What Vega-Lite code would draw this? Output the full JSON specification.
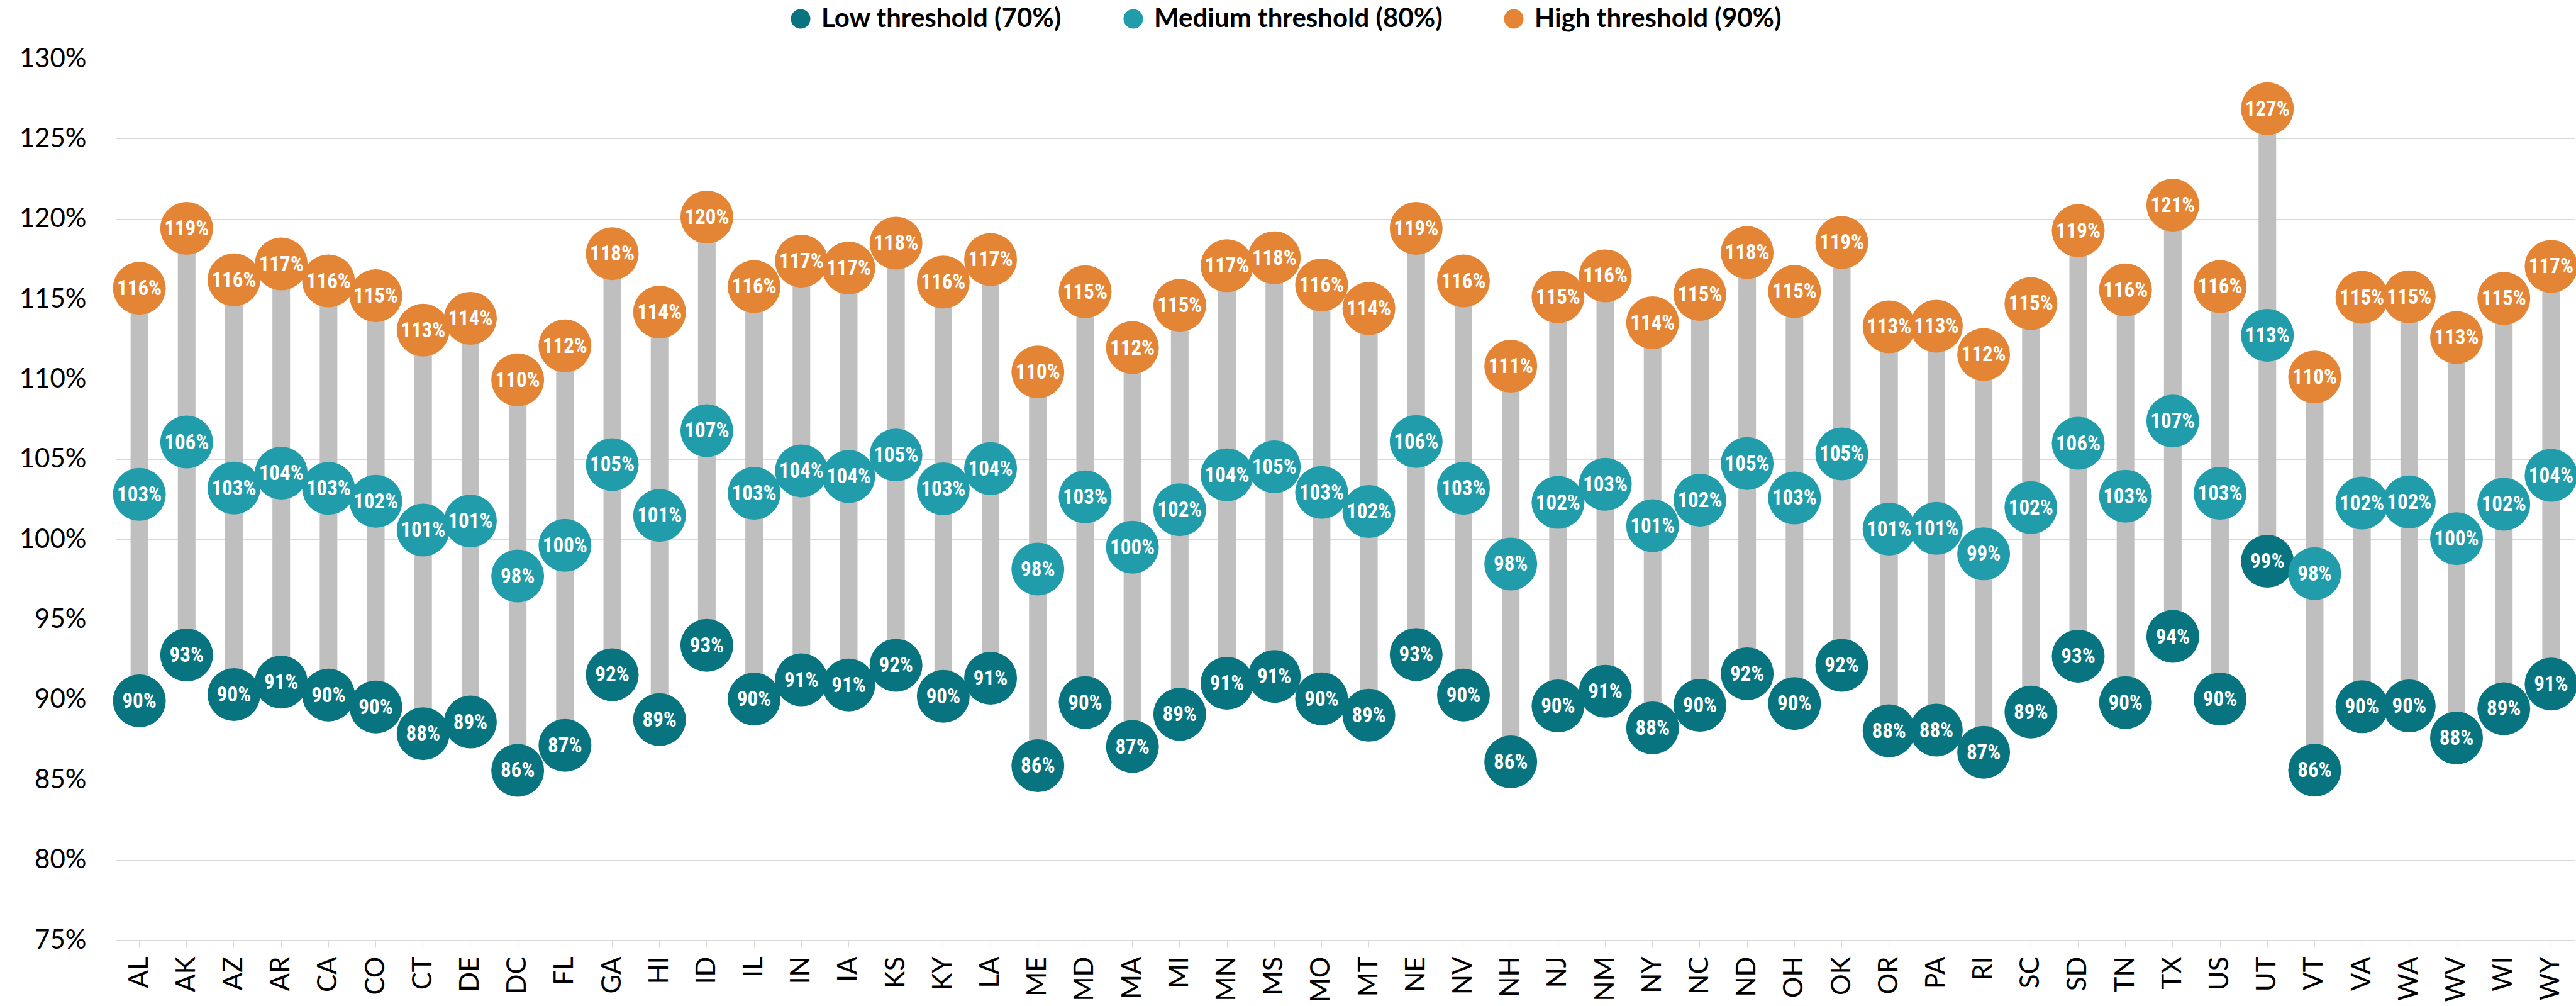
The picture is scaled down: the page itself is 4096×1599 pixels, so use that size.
{
  "$schema": "https://vega.github.io/schema/vega-lite/v6.json",
  "width": 3910,
  "height": 1401,
  "autosize": {"type": "none"},
  "padding": {"left": 184, "top": 93, "right": 2, "bottom": 105},
  "background": "white",
  "config": {"view": {"stroke": null}},
  "data": {"values": [
    {"state": "AL", "Low threshold (70%)": 0.8992, "Medium threshold (80%)": 1.028, "High threshold (90%)": 1.1566},
    {"state": "AK", "Low threshold (70%)": 0.9278, "Medium threshold (80%)": 1.0607, "High threshold (90%)": 1.194},
    {"state": "AZ", "Low threshold (70%)": 0.9031, "Medium threshold (80%)": 1.032, "High threshold (90%)": 1.1619},
    {"state": "AR", "Low threshold (70%)": 0.9109, "Medium threshold (80%)": 1.0413, "High threshold (90%)": 1.1718},
    {"state": "CA", "Low threshold (70%)": 0.9028, "Medium threshold (80%)": 1.0318, "High threshold (90%)": 1.1612},
    {"state": "CO", "Low threshold (70%)": 0.8954, "Medium threshold (80%)": 1.0237, "High threshold (90%)": 1.152},
    {"state": "CT", "Low threshold (70%)": 0.8787, "Medium threshold (80%)": 1.0058, "High threshold (90%)": 1.1305},
    {"state": "DE", "Low threshold (70%)": 0.886, "Medium threshold (80%)": 1.0114, "High threshold (90%)": 1.1379},
    {"state": "DC", "Low threshold (70%)": 0.8558, "Medium threshold (80%)": 0.9771, "High threshold (90%)": 1.0995},
    {"state": "FL", "Low threshold (70%)": 0.8714, "Medium threshold (80%)": 0.9962, "High threshold (90%)": 1.1207},
    {"state": "GA", "Low threshold (70%)": 0.9155, "Medium threshold (80%)": 1.0466, "High threshold (90%)": 1.1782},
    {"state": "HI", "Low threshold (70%)": 0.8875, "Medium threshold (80%)": 1.0149, "High threshold (90%)": 1.1418},
    {"state": "ID", "Low threshold (70%)": 0.9338, "Medium threshold (80%)": 1.0678, "High threshold (90%)": 1.2011},
    {"state": "IL", "Low threshold (70%)": 0.9003, "Medium threshold (80%)": 1.0287, "High threshold (90%)": 1.1577},
    {"state": "IN", "Low threshold (70%)": 0.9123, "Medium threshold (80%)": 1.0427, "High threshold (90%)": 1.1736},
    {"state": "IA", "Low threshold (70%)": 0.9091, "Medium threshold (80%)": 1.0392, "High threshold (90%)": 1.1693},
    {"state": "KS", "Low threshold (70%)": 0.9214, "Medium threshold (80%)": 1.0526, "High threshold (90%)": 1.1848},
    {"state": "KY", "Low threshold (70%)": 0.902, "Medium threshold (80%)": 1.0315, "High threshold (90%)": 1.1605},
    {"state": "LA", "Low threshold (70%)": 0.9133, "Medium threshold (80%)": 1.0441, "High threshold (90%)": 1.1746},
    {"state": "ME", "Low threshold (70%)": 0.8587, "Medium threshold (80%)": 0.9814, "High threshold (90%)": 1.1044},
    {"state": "MD", "Low threshold (70%)": 0.8981, "Medium threshold (80%)": 1.0265, "High threshold (90%)": 1.1545},
    {"state": "MA", "Low threshold (70%)": 0.8707, "Medium threshold (80%)": 0.9951, "High threshold (90%)": 1.1196},
    {"state": "MI", "Low threshold (70%)": 0.8908, "Medium threshold (80%)": 1.0184, "High threshold (90%)": 1.146},
    {"state": "MN", "Low threshold (70%)": 0.9102, "Medium threshold (80%)": 1.0402, "High threshold (90%)": 1.1707},
    {"state": "MS", "Low threshold (70%)": 0.9144, "Medium threshold (80%)": 1.0452, "High threshold (90%)": 1.1757},
    {"state": "MO", "Low threshold (70%)": 0.9005, "Medium threshold (80%)": 1.0292, "High threshold (90%)": 1.1587},
    {"state": "MT", "Low threshold (70%)": 0.8902, "Medium threshold (80%)": 1.0173, "High threshold (90%)": 1.144},
    {"state": "NE", "Low threshold (70%)": 0.9281, "Medium threshold (80%)": 1.061, "High threshold (90%)": 1.194},
    {"state": "NV", "Low threshold (70%)": 0.9028, "Medium threshold (80%)": 1.0318, "High threshold (90%)": 1.1612},
    {"state": "NH", "Low threshold (70%)": 0.8611, "Medium threshold (80%)": 0.9846, "High threshold (90%)": 1.108},
    {"state": "NJ", "Low threshold (70%)": 0.896, "Medium threshold (80%)": 1.023, "High threshold (90%)": 1.1513},
    {"state": "NM", "Low threshold (70%)": 0.9052, "Medium threshold (80%)": 1.0343, "High threshold (90%)": 1.1644},
    {"state": "NY", "Low threshold (70%)": 0.8823, "Medium threshold (80%)": 1.0085, "High threshold (90%)": 1.1351},
    {"state": "NC", "Low threshold (70%)": 0.8964, "Medium threshold (80%)": 1.0244, "High threshold (90%)": 1.1528},
    {"state": "ND", "Low threshold (70%)": 0.9161, "Medium threshold (80%)": 1.0473, "High threshold (90%)": 1.1789},
    {"state": "OH", "Low threshold (70%)": 0.8975, "Medium threshold (80%)": 1.0258, "High threshold (90%)": 1.1546},
    {"state": "OK", "Low threshold (70%)": 0.9214, "Medium threshold (80%)": 1.0533, "High threshold (90%)": 1.1852},
    {"state": "OR", "Low threshold (70%)": 0.8805, "Medium threshold (80%)": 1.0064, "High threshold (90%)": 1.1326},
    {"state": "PA", "Low threshold (70%)": 0.8809, "Medium threshold (80%)": 1.0068, "High threshold (90%)": 1.133},
    {"state": "RI", "Low threshold (70%)": 0.8671, "Medium threshold (80%)": 0.9909, "High threshold (90%)": 1.1153},
    {"state": "SC", "Low threshold (70%)": 0.8922, "Medium threshold (80%)": 1.0198, "High threshold (90%)": 1.1471},
    {"state": "SD", "Low threshold (70%)": 0.9271, "Medium threshold (80%)": 1.0599, "High threshold (90%)": 1.1926},
    {"state": "TN", "Low threshold (70%)": 0.8981, "Medium threshold (80%)": 1.0269, "High threshold (90%)": 1.1556},
    {"state": "TX", "Low threshold (70%)": 0.9394, "Medium threshold (80%)": 1.0738, "High threshold (90%)": 1.2085},
    {"state": "US", "Low threshold (70%)": 0.9003, "Medium threshold (80%)": 1.0287, "High threshold (90%)": 1.1577},
    {"state": "UT", "Low threshold (70%)": 0.9863, "Medium threshold (80%)": 1.1273, "High threshold (90%)": 1.2687},
    {"state": "VT", "Low threshold (70%)": 0.8559, "Medium threshold (80%)": 0.9786, "High threshold (90%)": 1.1013},
    {"state": "VA", "Low threshold (70%)": 0.8955, "Medium threshold (80%)": 1.0226, "High threshold (90%)": 1.151},
    {"state": "WA", "Low threshold (70%)": 0.896, "Medium threshold (80%)": 1.0233, "High threshold (90%)": 1.1513},
    {"state": "WV", "Low threshold (70%)": 0.876, "Medium threshold (80%)": 1.0004, "High threshold (90%)": 1.1259},
    {"state": "WI", "Low threshold (70%)": 0.8943, "Medium threshold (80%)": 1.0219, "High threshold (90%)": 1.1503},
    {"state": "WY", "Low threshold (70%)": 0.9097, "Medium threshold (80%)": 1.0399, "High threshold (90%)": 1.1703}
  ]},
  "encoding": {
    "x": {
      "field": "state", "type": "nominal", "sort": null, "title": null,
      "scale": {"paddingInner": 0, "paddingOuter": 0},
      "axis": {
        "labelAngle": -90, "labelAlign": "right", "labelBaseline": "middle",
        "labelFont": "Lato", "labelFontSize": 42, "labelColor": "#000000",
        "labelPadding": 14, "tickSize": 12, "tickColor": "#D9D9D9", "tickWidth": 1.2,
        "domainColor": "#D9D9D9", "domainWidth": 1.2, "grid": false
      }
    }
  },
  "layer": [
    {
      "mark": {"type": "bar", "color": "#BFBFBF", "size": 28},
      "encoding": {
        "y": {
          "field": "Low threshold (70%)", "type": "quantitative", "title": null,
          "scale": {"domain": [0.75, 1.3], "nice": false, "zero": false},
          "axis": {
            "values": [0.75, 0.8, 0.85, 0.9, 0.95, 1.0, 1.05, 1.1, 1.15, 1.2, 1.25, 1.3],
            "format": ".0%", "labelFont": "Lato", "labelFontSize": 42, "labelColor": "#000000",
            "ticks": false, "domain": false, "labelPadding": 47,
            "gridColor": "#D9D9D9", "gridWidth": 1.2
          }
        },
        "y2": {"field": "High threshold (90%)"}
      }
    },
    {
      "transform": [{"fold": ["Low threshold (70%)", "Medium threshold (80%)", "High threshold (90%)"], "as": ["threshold", "value"]}],
      "mark": {"type": "circle", "size": 7056, "opacity": 1},
      "encoding": {
        "y": {"field": "value", "type": "quantitative", "title": null},
        "color": {
          "field": "threshold", "type": "nominal",
          "scale": {"domain": ["Low threshold (70%)", "Medium threshold (80%)", "High threshold (90%)"], "range": ["#077480", "#219CAB", "#E38534"]},
          "legend": {
            "title": null, "orient": "none", "legendX": 1068, "legendY": -84, "direction": "horizontal",
            "symbolType": "circle", "symbolSize": 961, "symbolOpacity": 1, "symbolStrokeWidth": 0,
            "labelFont": "Lato", "labelFontSize": 42, "labelFontWeight": "bold", "labelColor": "#000000",
            "labelOffset": 12, "columnPadding": 92, "labelLimit": 0
          }
        }
      }
    },
    {
      "transform": [{"fold": ["Low threshold (70%)", "Medium threshold (80%)", "High threshold (90%)"], "as": ["threshold", "value"]}],
      "mark": {"type": "text", "color": "#FFFFFF", "font": "Roboto Condensed, Roboto", "fontWeight": "bold", "fontSize": 33, "align": "center", "baseline": "middle", "dy": 1},
      "encoding": {
        "y": {"field": "value", "type": "quantitative", "title": null},
        "text": {"field": "value", "type": "quantitative", "format": ".0%"}
      }
    }
  ]
}
